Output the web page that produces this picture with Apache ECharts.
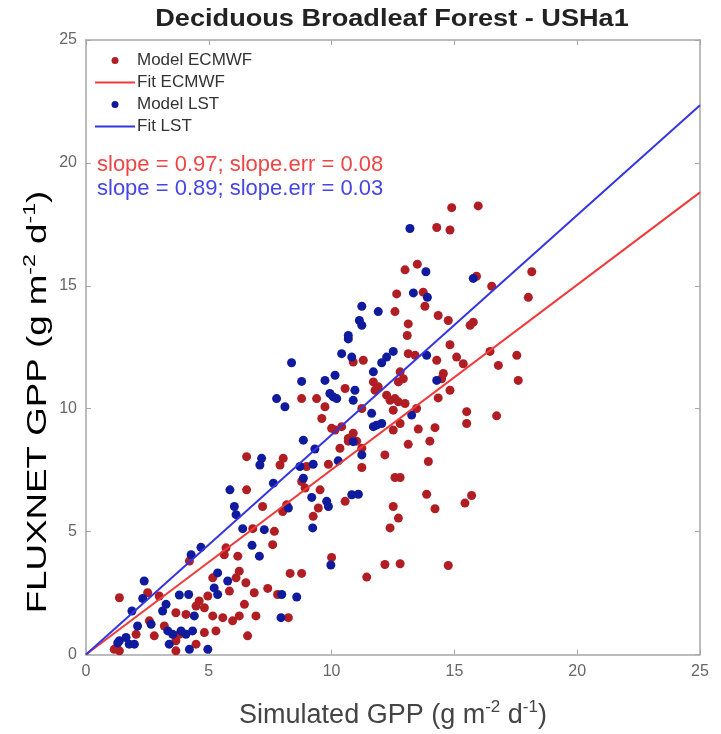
<!DOCTYPE html>
<html>
<head>
<meta charset="utf-8">
<script src="https://cdn.jsdelivr.net/npm/echarts@6/dist/echarts.min.js"></script>
<style>
  html, body { margin: 0; padding: 0; background: #fff; }
  #chart { width: 721px; height: 734px; }
</style>
</head>
<body>
<div id="chart"></div>
<script>
// Simulated vs observed daily GPP at US-Ha1 (g m-2 d-1): [simulated, FLUXNET]
const modelECMWF = [
  [7.19,6.02],[8.01,5.82],[6.79,5.12],[7.67,5.01],[7.6,4.47],[5.70,4.34],[5.63,4.06],[6.18,4.0],
  [4.21,3.8],[6.24,3.39],[6.11,3.12],[6.51,2.92],[5.16,3.12],[5.84,2.58],[6.85,2.51],[7.40,2.69],
  [7.80,2.44],[1.36,2.31],[2.51,2.51],[2.98,2.38],[4.96,2.38],[4.61,2.18],[4.48,1.97],[4.82,1.90],
  [3.66,1.70],[4.07,1.63],[5.16,1.57],[5.57,1.5],[5.97,1.37],[6.24,1.57],[6.45,2.04],[6.92,1.57],
  [2.58,1.37],[3.19,1.16],[2.78,0.76],[2.04,0.82],[3.66,0.56],[3.80,0.82],[4.48,0.42],[4.82,0.89],
  [5.29,0.96],[6.58,0.76],[1.15,0.21],[1.36,0.15],[3.66,0.15],[8.31,3.3],[8.78,3.3],[10.0,3.95],
  [8.24,1.5],[13.12,8.55],[14.0,8.68],[13.94,7.85],[12.17,8.12],[12.58,7.2],[12.79,7.2],[13.87,6.52],
  [14.21,5.93],[15.43,6.16],[15.70,6.47],[12.51,6.02],[12.72,5.55],[12.38,5.15],[12.17,3.66],[12.79,3.69],
  [14.75,3.62],[11.43,3.15],[11.23,7.61],[10.34,8.39],[10.68,8.68],[11.02,8.68],[9.87,7.74],[8.03,7.98],
  [8.78,7.04],[9.53,6.70],[9.25,5.62],[9.46,5.96],[10.55,6.23],[8.78,10.41],[9.39,10.41],[9.73,10.08],
  [9.60,9.60],[10.55,10.82],[10.88,11.9],[11.77,10.75],[11.7,11.09],[11.23,10.01],[10.0,9.2],[10.41,9.27],
  [10.68,8.79],[10.88,9.0],[11.23,8.39],[6.54,8.05],[7.9,7.71],[8.98,7.65],[8.92,6.77],[6.54,6.70],
  [8.17,6.09],[14.89,18.18],[15.97,18.25],[14.28,17.37],[14.82,17.27],[12.99,15.65],[13.49,15.88],[12.65,14.67],
  [13.73,14.74],[13.80,14.17],[12.58,13.95],[18.15,15.57],[18.01,14.53],[16.52,14.98],[15.9,15.39],[14.34,13.79],
  [14.75,13.59],[13.12,13.45],[13.08,12.98],[15.64,13.39],[15.77,13.52],[14.82,12.6],[16.45,12.33],[17.54,12.17],
  [13.12,12.24],[13.4,12.17],[14.28,11.97],[15.09,12.1],[15.36,11.83],[16.79,11.76],[17.6,11.15],[16.72,9.71],
  [15.5,9.88],[15.5,9.4],[14.82,10.75],[14.34,10.44],[14.55,11.43],[14.48,11.22],[13.46,10.01],[12.99,10.21],
  [12.72,11.09],[12.92,11.22],[12.79,11.5],[12.24,10.55],[12.38,10.34],[12.58,10.41],[12.72,10.28],[12.51,9.94],
  [11.9,10.89],[12.79,9.4],[12.51,9.13],[13.53,9.17],[14.21,9.23],[10.14,9.13],[11.29,11.97]
];

const modelLST = [
  [6.04,6.02],[6.11,5.69],[6.38,5.12],[7.26,5.08],[6.76,4.44],[7.06,4.0],[4.28,4.06],[4.68,4.36],
  [2.37,2.99],[2.31,2.28],[3.26,2.04],[3.80,2.42],[4.18,2.44],[5.36,3.32],[5.77,2.99],[5.22,2.71],
  [5.36,2.44],[1.87,1.77],[2.10,1.16],[2.65,1.23],[3.12,1.77],[3.33,0.96],[3.53,0.82],[3.87,0.96],
  [4.07,0.82],[4.34,0.96],[4.41,1.57],[1.36,0.56],[1.76,0.42],[1.63,0.69],[1.29,0.47],[1.97,0.42],
  [3.39,0.42],[4.21,0.21],[4.96,0.21],[7.94,1.5],[9.97,3.64],[7.97,2.44],[8.58,2.34],[8.85,8.72],
  [9.32,8.36],[8.71,7.65],[9.25,7.74],[8.85,7.17],[9.19,6.39],[9.80,6.23],[9.87,6.02],[10.27,7.88],
  [10.88,8.66],[11.23,8.12],[10.82,6.5],[11.09,6.52],[8.24,5.96],[9.23,5.15],[8.37,11.87],[10.68,12.84],
  [10.41,12.24],[10.82,12.1],[11.7,11.5],[8.78,11.11],[9.73,11.15],[10.14,11.36],[7.76,10.41],[8.10,10.08],
  [9.93,10.62],[10.07,10.48],[10.21,10.41],[10.95,10.75],[10.88,10.34],[11.63,9.81],[11.70,9.27],[7.15,7.98],
  [7.08,7.71],[7.63,6.97],[5.86,6.70],[13.19,17.33],[13.84,15.57],[15.77,15.3],[13.33,14.71],[13.9,14.53],
  [11.23,14.17],[11.9,13.95],[11.13,13.59],[11.23,13.39],[10.68,12.98],[12.51,12.33],[12.24,12.1],[12.04,11.87],
  [13.87,12.17],[11.83,9.33],[12.04,9.4],[13.26,9.74],[14.28,11.15]
];

// Fitted regression lines, drawn across the full x range
const fitX = [0, 25];
const fitECMWF = [0, 18.8];
const fitLST = [0, 22.35];

const xTicks = [0, 5, 10, 15, 20, 25];
const yTicks = [0, 5, 10, 15, 20, 25];

const titleText = 'Deciduous Broadleaf Forest - USHa1';
const slopeECMWF = 'slope = 0.97; slope.err = 0.08';
const slopeLST = 'slope = 0.89; slope.err = 0.03';

const FONT = '"Liberation Sans", Arial, Helvetica, sans-serif';
const FRAME = '#a6a6a6';
const RED_PT = '#b01e24';
const BLUE_PT = '#0f1a9c';
const RED_LINE = '#f03a3a';
const BLUE_LINE = '#3535e0';
const LINE_ICON = 'path://M0 0H40V2H0Z';

function axisBase(showLabels, ticks) {
  return {
    type: 'value',
    min: ticks[0],
    max: ticks[ticks.length - 1],
    interval: ticks[1] - ticks[0],
    axisLine: { show: true, onZero: false, lineStyle: { color: FRAME, width: 1.5 } },
    axisTick: { show: true, inside: true, length: 5, lineStyle: { color: FRAME, width: 1 } },
    axisLabel: { show: showLabels, color: '#666', fontSize: 16, fontFamily: FONT, margin: 9 },
    splitLine: { show: false }
  };
}

// Unit labels with raised exponents
const richBig = { fontSize: 27, color: '#444', fontFamily: FONT, lineHeight: 34 };
const richSup = { fontSize: 17, color: '#444', fontFamily: FONT, lineHeight: 18, verticalAlign: 'top' };

const chart = echarts.init(document.getElementById('chart'), null, { renderer: 'canvas' });

chart.setOption({
  animation: false,
  backgroundColor: '#fff',
  grid: { left: 86, right: 21, top: 40, bottom: 77, containLabel: false },
  legend: {
    orient: 'vertical',
    left: 90,
    top: 47,
    itemWidth: 40,
    itemHeight: 7,
    itemGap: 5,
    selectedMode: false,
    textStyle: { fontSize: 17, color: '#333', fontFamily: FONT, padding: [0, 0, 0, -3] },
    data: [
      { name: 'Model ECMWF', icon: 'circle' },
      { name: 'Fit ECMWF', icon: LINE_ICON, itemStyle: { color: RED_LINE } },
      { name: 'Model LST', icon: 'circle' },
      { name: 'Fit LST', icon: LINE_ICON, itemStyle: { color: BLUE_LINE } }
    ]
  },
  xAxis: [
    Object.assign(axisBase(true, xTicks), {
      position: 'bottom',
      name: '{b|Simulated GPP (g m}{s|-2}{b| d}{s|-1}{b|)}',
      nameLocation: 'middle',
      nameGap: 44,
      nameTextStyle: { rich: { b: richBig, s: richSup } }
    }),
    Object.assign(axisBase(false, xTicks), { position: 'top' })
  ],
  yAxis: [
    Object.assign(axisBase(true, yTicks), { position: 'left' }),
    Object.assign(axisBase(false, yTicks), { position: 'right' })
  ],
  graphic: [
    {
      type: 'text',
      x: 392,
      y: 20,
      scaleX: 1.18,
      style: {
        text: titleText,
        font: 'bold 23px ' + FONT,
        fill: '#222',
        align: 'center',
        verticalAlign: 'middle',
        textAlign: 'center',
        textVerticalAlign: 'middle'
      }
    },
    {
      type: 'text',
      x: 39,
      y: 402,
      rotation: Math.PI / 2,
      scaleX: 1.36,
      style: {
        text: '{b|FLUXNET GPP (g m}{s|-2}{b| d}{s|-1}{b|)}',
        rich: { b: richBig, s: richSup },
        align: 'center',
        verticalAlign: 'middle',
        textAlign: 'center',
        textVerticalAlign: 'middle'
      }
    },
    {
      type: 'text',
      x: 97,
      y: 165,
      style: {
        text: slopeECMWF, fill: '#ee4646', font: '22px ' + FONT,
        verticalAlign: 'middle', textVerticalAlign: 'middle'
      }
    },
    {
      type: 'text',
      x: 97,
      y: 189,
      style: {
        text: slopeLST, fill: '#4646e4', font: '22px ' + FONT,
        verticalAlign: 'middle', textVerticalAlign: 'middle'
      }
    }
  ],
  series: [
    {
      name: 'Model ECMWF',
      type: 'scatter',
      data: modelECMWF,
      symbol: 'circle',
      symbolSize: 9,
      itemStyle: { color: RED_PT, opacity: 1 }
    },
    {
      name: 'Fit ECMWF',
      type: 'line',
      data: fitX.map((x, i) => [x, fitECMWF[i]]),
      symbol: 'none',
      showSymbol: false,
      lineStyle: { color: RED_LINE, width: 2 },
      itemStyle: { color: RED_LINE },
      z: 3
    },
    {
      name: 'Model LST',
      type: 'scatter',
      data: modelLST,
      symbol: 'circle',
      symbolSize: 9,
      itemStyle: { color: BLUE_PT, opacity: 1 }
    },
    {
      name: 'Fit LST',
      type: 'line',
      data: fitX.map((x, i) => [x, fitLST[i]]),
      symbol: 'none',
      showSymbol: false,
      lineStyle: { color: BLUE_LINE, width: 2 },
      itemStyle: { color: BLUE_LINE },
      z: 3
    }
  ]
});
</script>
</body>
</html>
